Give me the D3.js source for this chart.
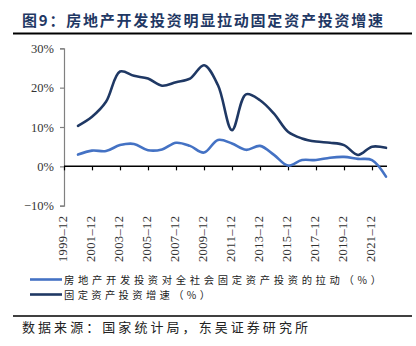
<!DOCTYPE html>
<html><head><meta charset="utf-8">
<script src="https://cdn.jsdelivr.net/npm/d3@7"></script>
<style>body{margin:0;background:#fff}svg{display:block}</style>
</head><body>
<svg id="c" width="416" height="346"></svg>
<script>
const years = [2000,2001,2002,2003,2004,2005,2006,2007,2008,2009,2010,2011,2012,2013,2014,2015,2016,2017,2018,2019,2020,2021,2022];
const pullValues = [3.0,4.0,3.9,5.4,5.7,4.1,4.3,6.0,5.2,3.5,6.7,5.8,4.2,5.2,2.9,0.2,1.6,1.6,2.2,2.4,1.9,1.6,-2.6];
const growthValues = [10.3,12.6,16.4,24.1,23.0,22.3,20.5,21.4,22.3,25.7,20.6,9.2,18.3,16.8,13.4,8.8,7.1,6.3,6.0,5.4,2.9,5.0,4.7];
const yTicks = [30,20,10,0,-10];
const xTickYears = [1999,2001,2003,2005,2007,2009,2011,2013,2015,2017,2019,2021];
const seriesNames = ["房地产开发投资对全社会固定资产投资的拉动（%）","固定资产投资增速（%）"];
const colors = ["#4472C4","#1F3864"];
const title = "图9：房地产开发投资明显拉动固定资产投资增速";
const source = "数据来源：国家统计局，东吴证券研究所";

const svg = d3.select("#c");
const cjk = "'Noto Sans CJK SC', sans-serif";
const serif = "'Liberation Serif', 'Times New Roman', serif";

// title
svg.append("text").attr("x",22).attr("y",26).attr("font-family",cjk).attr("font-weight","bold")
  .attr("font-size",15).attr("fill","#1F3864").attr("textLength",361).attr("lengthAdjust","spacing").text(title);
svg.append("line").attr("x1",13).attr("x2",412).attr("y1",33.5).attr("y2",33.5).attr("stroke","#000").attr("stroke-width",2);

const x = d3.scaleLinear().domain([1999,2022]).range([64,386]);
const y = d3.scaleLinear().domain([-10,30]).range([205.7,48.3]);

// y axis
const yAxis = svg.append("g").attr("transform","translate(64,0)")
  .call(d3.axisLeft(y).tickValues(yTicks).tickSize(4).tickFormat(d=>d+"%"));
yAxis.select(".domain").attr("stroke","#808080").attr("stroke-width",1.2);
yAxis.selectAll(".tick line").attr("stroke","#808080").attr("stroke-width",1.2);
yAxis.selectAll(".tick text").attr("font-family",serif).attr("font-size",12.5).attr("fill","#333").attr("x",-10)
  .text(d=> d<0 ? "\u2212"+Math.abs(d)+"%" : d+"%");

// x axis at 0
const xAxis = svg.append("g").attr("transform",`translate(0,${y(0)})`)
  .call(d3.axisBottom(x).tickValues(d3.range(1999,2023,2)).tickSize(4).tickFormat(""));
xAxis.select(".domain").attr("stroke","#000").attr("stroke-width",1.5).attr("d",`M${x(1999)},0H${x(2022)+1}`);
xAxis.selectAll(".tick line").attr("stroke","#000").attr("stroke-width",1.2);

// x labels rotated
svg.append("g").selectAll("text").data(xTickYears).join("text")
  .attr("transform",d=>`translate(${x(d)-1},216) rotate(-90)`)
  .attr("text-anchor","end").attr("dy","0.35em")
  .attr("font-family",serif).attr("font-size",12.5).attr("fill","#333")
  .attr("textLength",46).attr("lengthAdjust","spacing")
  .text(d=>d+"\u201312");

// lines
const line = d3.line().curve(d3.curveCatmullRom.alpha(0.5)).x((d,i)=>x(years[i])).y(d=>y(d));
[pullValues,growthValues].forEach((vals,k)=>{
  svg.append("path").attr("d",line(vals)).attr("fill","none").attr("stroke",colors[k])
    .attr("stroke-width",2.6).attr("stroke-linejoin","round").attr("stroke-linecap","round");
});

// legend
const leg = svg.append("g");
seriesNames.forEach((n,i)=>{
  const ly = 279.5 + i*15;
  leg.append("line").attr("x1",30).attr("x2",62).attr("y1",ly).attr("y2",ly).attr("stroke",colors[i]).attr("stroke-width",2.6);
  leg.append("text").attr("x",64).attr("y",ly+4).attr("font-family",cjk).attr("font-size",10.3).attr("fill","#222")
    .attr("textLength", i===0?317:146).attr("lengthAdjust","spacing").text(n);
});

// bottom rule and source
svg.append("line").attr("x1",13).attr("x2",412).attr("y1",316).attr("y2",316).attr("stroke","#000").attr("stroke-width",1.6);
svg.append("text").attr("x",22).attr("y",332).attr("font-family",cjk).attr("font-size",13).attr("fill","#222")
  .attr("textLength",286).attr("lengthAdjust","spacing").text(source);
</script>
</body></html>
